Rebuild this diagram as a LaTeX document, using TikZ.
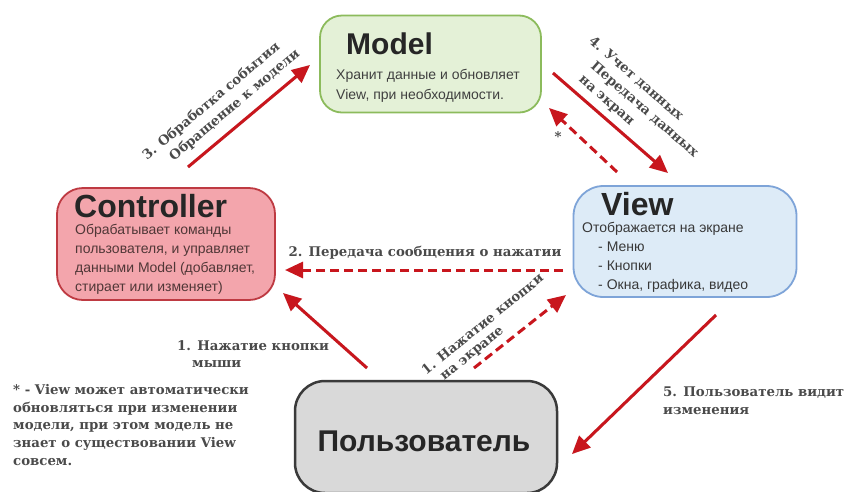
\documentclass[tikz,border=0pt]{standalone}
\usepackage{fontspec}
\setmainfont{Liberation Sans}
\newfontfamily\lblfont{DejaVu Serif}
\usetikzlibrary{arrows.meta}
\definecolor{arrred}{HTML}{C8161D}
\definecolor{mfill}{HTML}{E4F1D7}
\definecolor{mdraw}{HTML}{8CBB5C}
\definecolor{cfill}{HTML}{F3A5AC}
\definecolor{cdraw}{HTML}{BE3A42}
\definecolor{vfill}{HTML}{DDEBF7}
\definecolor{vdraw}{HTML}{7EA4D8}
\definecolor{ufill}{HTML}{D9D9D9}
\definecolor{udraw}{HTML}{3A3A3A}
\definecolor{lblgray}{HTML}{4A4A4A}
\newcommand\lblines[1]{\begin{tabular}[t]{@{}l@{}}#1\end{tabular}}
\tikzset{
  box/.style={rectangle, inner sep=0pt, line width=1.8pt},
  head/.style={font=\fontsize{30}{30}\selectfont\bfseries, text=black!85, inner sep=0pt},
  bighead/.style={head, font=\fontsize{32}{32}\selectfont\bfseries},
  desc/.style={font=\fontsize{14}{19}\selectfont, align=left, inner sep=0pt},
  lbl/.style={font=\lblfont\bfseries\fontsize{13.3}{17.8}\selectfont, text=lblgray, inner sep=0pt},
  lblskip/.style={lbl, font=\lblfont\bfseries\fontsize{13.3}{#1}\selectfont},
  solidarr/.style={draw=arrred, line width=3pt, -{Triangle[length=18pt,width=16pt]}},
  dasharr/.style={solidarr, dash pattern=on 9pt off 5pt},
  shadowarr/.style={draw=black!25, line width=3pt, -{Triangle[length=18pt,width=16pt]}, opacity=0.45}
}
\begin{document}
\begin{tikzpicture}[x=1pt,y=-1pt]
\useasboundingbox (0,0) rectangle (850,491);
\fill[white] (0,0) rectangle (850,491);

% boxes
\node[box, fill=mfill, draw=mdraw, minimum width=221pt, minimum height=97pt, rounded corners=22pt] (model) at (430.5,64) {};
\node[box, fill=cfill, draw=cdraw, minimum width=218pt, minimum height=112pt, rounded corners=26pt] (ctrl) at (166,244) {};
\node[box, fill=vfill, draw=vdraw, minimum width=223pt, minimum height=111pt, rounded corners=30pt] (view) at (685,241.5) {};
\node[box, fill=ufill, draw=udraw, line width=2.5pt, minimum width=262pt, minimum height=112pt, rounded corners=30pt] (user) at (426,437) {};

% headers
\node[head, anchor=base west] (modelT) at (346,54) {Model};
\node[bighead, anchor=base west] (ctrlT) at (74,217) {Controller};
\node[bighead, anchor=base west] (viewT) at (601,215) {View};
\node[head, anchor=base] (userT) at (424,451) {Пользователь};

% descriptions
\node[desc, anchor=north west, text=black!75] (modelD) at (336,69) {Хранит данные и обновляет\\[1.5pt]View, при необходимости.};
\node[desc, anchor=north west, text={rgb,255:red,80;green,55;blue,55}] (ctrlD) at (75,224) {Обрабатывает команды\\пользователя, и управляет\\данными Model (добавляет,\\стирает или изменяет)};
\node[desc, anchor=north west, text=black!78] (viewD) at (582,222) {Отображается на экране\\\hspace*{16pt}- Меню\\\hspace*{16pt}- Кнопки\\\hspace*{16pt}- Окна, графика, видео};

% arrow end points
\coordinate (a3s) at (188,167); \coordinate (a3e) at (310,65);
\coordinate (a4s) at (553,73);  \coordinate (a4e) at (668,173);
\coordinate (a4bs) at (617,172); \coordinate (a4be) at (549,108);
\coordinate (a2s) at (563,270); \coordinate (a2e) at (285,270);
\coordinate (a1s) at (367,368); \coordinate (a1e) at (283,293);
\coordinate (a1bs) at (474,368); \coordinate (a1be) at (566,295);
\coordinate (a5s) at (716,315); \coordinate (a5e) at (572,454);

% shadows
\begin{scope}[shift={(2,2.5)}]
\draw[shadowarr] (a3s) -- (a3e);
\draw[shadowarr] (a4s) -- (a4e);
\draw[shadowarr] (a1s) -- (a1e);
\draw[shadowarr] (a5s) -- (a5e);
\end{scope}

% arrows
\draw[solidarr] (a3s) -- (a3e);
\draw[solidarr] (a4s) -- (a4e);
\draw[dasharr] (a4bs) -- (a4be);
\draw[dasharr] (a2s) -- (a2e);
\draw[solidarr] (a1s) -- (a1e);
\draw[dasharr] (a1bs) -- (a1be);
\draw[solidarr] (a5s) -- (a5e);

% labels
\node[lbl, rotate=40, anchor=base west] (l3) at (147,160.5) {\lblines{3. Обработка события\\\hspace*{20pt}Обращение к модели}};
\node[lbl, rotate=-41, anchor=base west] (l4) at (588,42) {\lblines{4. Учет данных\\\hspace*{18pt}Передача данных\\\hspace*{18pt}на экран}};
\node[lbl] (star) at (558,137) {*};
\node[lbl] (l2) at (425,253) {2. Передача сообщения о нажатии};
\node[lblskip=17, anchor=base west] (l1) at (177,350.5) {\lblines{1. Нажатие кнопки\\\hspace*{15pt}мыши}};
\node[lblskip=15.5, rotate=39, anchor=base west] (l1s) at (426,375.5) {\lblines{1. Нажатие кнопки\\\hspace*{11pt}на экране}};
\node[lblskip=18, anchor=base west] (l5) at (663,396.5) {\lblines{5. Пользователь видит\\изменения}};
\node[lbl, anchor=north west, align=left] (note) at (13,384) {* - View может автоматически\\обновляться при изменении\\модели, при этом модель не\\знает о существовании View\\совсем.};
\end{tikzpicture}
\end{document}
